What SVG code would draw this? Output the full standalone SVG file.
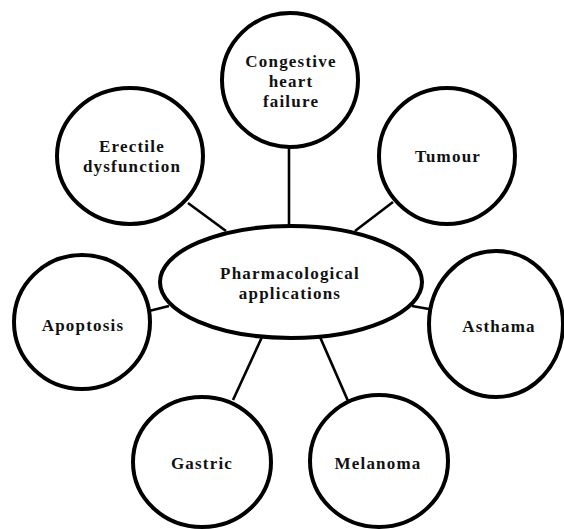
<svg xmlns="http://www.w3.org/2000/svg" width="564" height="529" viewBox="0 0 564 529">
<style>
.node{fill:#fff;stroke:#000;stroke-width:4}
.lbl{font-family:"Liberation Serif","Times New Roman",serif;font-size:17px;font-weight:bold;fill:#111;text-anchor:middle;letter-spacing:1.2px}
.conn line{stroke:#000;stroke-width:2.6}
</style>
<rect width="564" height="529" fill="#fff"/>
<g class="conn" id="connectors">
<line x1="289" y1="148" x2="289" y2="226"/>
<line x1="188" y1="203" x2="226" y2="231"/>
<line x1="393" y1="202" x2="355" y2="231"/>
<line x1="149" y1="311" x2="169" y2="306"/>
<line x1="412" y1="306" x2="429" y2="309"/>
<line x1="262" y1="337" x2="233" y2="400"/>
<line x1="320" y1="337" x2="348" y2="401"/>
</g>
<g id="center">
<ellipse class="node" cx="291" cy="282" rx="131" ry="56"/>
<text class="lbl" x="290" y="279">Pharmacological</text>
<text class="lbl" x="290" y="299">applications</text>
</g>
<g id="congestive">
<ellipse class="node" cx="290" cy="80" rx="68" ry="67"/>
<text class="lbl" x="291" y="67">Congestive</text>
<text class="lbl" x="291" y="87">heart</text>
<text class="lbl" x="291" y="107">failure</text>
</g>
<g id="erectile">
<ellipse class="node" cx="130" cy="156" rx="73" ry="68"/>
<text class="lbl" x="132" y="152">Erectile</text>
<text class="lbl" x="132" y="172">dysfunction</text>
</g>
<g id="tumour">
<ellipse class="node" cx="447" cy="156" rx="68" ry="68"/>
<text class="lbl" x="448" y="162">Tumour</text>
</g>
<g id="apoptosis">
<ellipse class="node" cx="82" cy="322" rx="68" ry="67"/>
<text class="lbl" x="83" y="331">Apoptosis</text>
</g>
<g id="asthama">
<ellipse class="node" cx="496" cy="324" rx="67" ry="73"/>
<text class="lbl" x="499" y="332">Asthama</text>
</g>
<g id="gastric">
<ellipse class="node" cx="202" cy="462" rx="69" ry="65"/>
<text class="lbl" x="202" y="469">Gastric</text>
</g>
<g id="melanoma">
<ellipse class="node" cx="379" cy="461" rx="69" ry="66"/>
<text class="lbl" x="378" y="469">Melanoma</text>
</g>
</svg>
